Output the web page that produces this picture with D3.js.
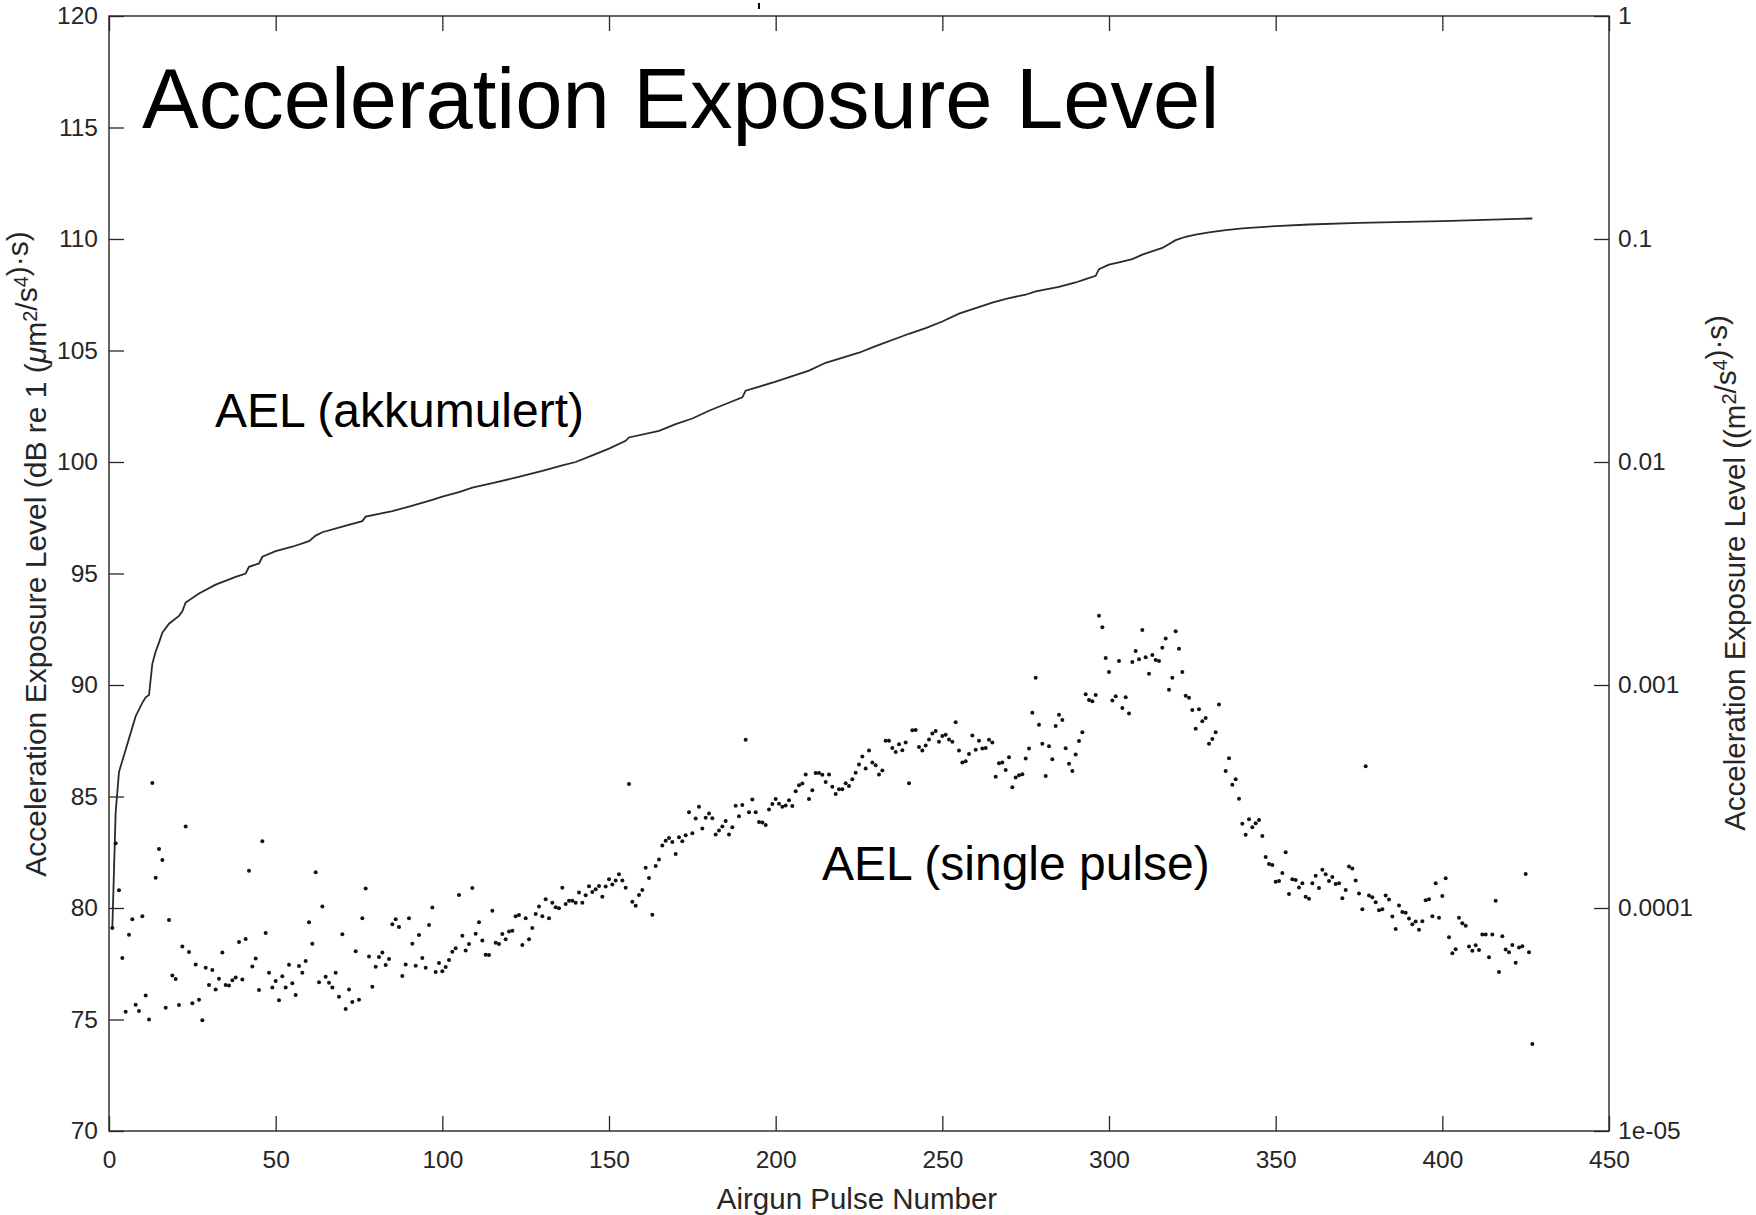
<!DOCTYPE html>
<html>
<head>
<meta charset="utf-8">
<script src="https://cdn.jsdelivr.net/npm/d3@7/dist/d3.min.js"></script>
<style>
    body { margin: 0; background: #fff; }
    svg { display: block; font-family: "Liberation Sans", Arial, sans-serif; }
</style>
</head>
<body>
<script>
// single pulse AEL, pulse 1..427 (dB re 1 (um^2/s^4)s), null = no dot seen
var singlePulse = [
    79.1, 82.9, 80.8, 77.76, 75.35, 78.8, 79.5, 75.66, 75.38, 79.63,
    76.08, 75.0, 85.6, 81.36, 82.65, 82.15, 75.53, 79.46, 76.97, 76.82,
    75.65, 78.27, 83.66, 78.03, 75.73, 77.47, 75.89, 74.97, 77.32, 76.55,
    77.22, 76.35, 76.83, 78.01, 76.55, 76.53, 76.76, 76.88, 78.48, 76.79,
    78.61, 81.67, 77.38, 77.73, 76.32, 82.99, 78.88, 77.1, 76.43, 76.73,
    75.86, 76.94, 76.43, 77.46, 76.62, 76.1, 77.4, 77.1, 77.62, 79.36,
    78.4, 81.6, 76.67, 80.07, 76.92, 76.65, 76.43, 77.1, 76.02, 78.82,
    75.47, 76.34, 75.78, 78.06, 75.89, 79.54, 80.88, 77.83, 76.47, 77.37,
    77.8, 78.0, 77.44, 77.71, 79.27, 79.49, 79.15, 76.95, 77.47, 79.54,
    78.4, 77.41, 78.79, 77.76, 77.32, 79.24, 80.02, 77.13, 77.53, 77.16,
    77.35, 77.67, 78.04, 78.19, 80.58, 78.76, 78.09, 78.39, 80.9, 78.85,
    79.36, 78.54, 77.9, 77.89, 79.88, 78.44, 78.39, 78.83, 78.6, 78.95,
    78.98, 79.63, 79.69, 78.34, 79.54, 78.6, 79.1, 79.73, 80.07, 79.63,
    80.39, 79.54, 80.24, 80.03, 79.99, 80.91, 80.18, 80.33, 80.33, 80.24,
    80.7, 80.24, 80.57, 80.97, 80.72, 80.84, 80.99, 80.51, 80.96, 81.29,
    81.05, 81.23, 81.51, 81.23, 80.91, 85.56, 80.28, 80.1, 80.58, 80.81,
    81.8, 81.35, 79.7, 81.88, 82.17, 82.8, 83.02, 83.14, 82.96, 82.42,
    83.17, 82.99, 83.26, 84.29, 83.35, 84.01, 84.54, 83.56, 84.05, 84.24,
    84.03, 83.3, 83.47, 83.65, 83.9, 83.3, 83.62, 84.59, 84.11, 84.62,
    87.55, 84.29, 84.86, 84.29, 83.86, 83.83, 83.72, 84.42, 84.66, 84.89,
    84.68, 84.54, 84.6, 84.83, 84.57, 85.23, 85.5, 85.58, 85.99, 84.89,
    85.28, 86.05, 86.05, 85.98, 85.65, 85.99, 85.44, 85.11, 85.32, 85.33,
    85.59, 85.47, 85.77, 86.07, 86.43, 86.79, 86.26, 87.06, 86.53, 86.4,
    85.99, 86.17, 87.5, 87.5, 87.17, 87.0, 87.34, 87.07, 87.42, 85.59,
    87.97, 87.98, 87.22, 87.06, 87.29, 87.56, 87.82, 87.94, 87.46, 87.71,
    87.77, 87.56, 87.46, 88.33, 87.06, 86.52, 86.58, 86.91, 87.74, 87.1,
    87.5, 87.15, 87.18, 87.55, 87.42, 85.89, 86.49, 86.52, 86.19, 86.76,
    85.41, 85.85, 85.95, 86.0, 86.7, 87.15, 88.76, 90.33, 88.22, 87.36,
    85.92, 87.25, 86.67, 88.16, 88.67, 88.43, 87.16, 86.47, 86.14, 86.88,
    87.49, 87.88, 89.58, 89.33, 89.27, 89.55, 93.11, 92.59, 91.21, 90.58,
    89.31, 89.49, 91.08, 88.97, 89.45, 88.72, 91.03, 91.53, 91.15, 92.47,
    91.24, 90.51, 91.35, 91.12, 91.08, 91.67, 92.08, 89.79, 90.33, 92.41,
    91.62, 90.58, 89.52, 89.43, 88.88, 88.04, 88.91, 88.37, 88.52, 87.36,
    87.58, 87.88, 89.13, null, 86.14, 86.71, 85.53, 85.77, 84.9, 83.78,
    83.29, 83.98, 83.62, 83.8, 83.95, 83.23, 82.29, 81.97, 81.93, 81.18,
    81.21, 81.57, 82.5, 80.63, 81.29, 81.26, 80.92, 81.11, 80.51, 80.41,
    81.11, 81.45, 80.9, 81.71, 81.51, 81.21, 81.39, 81.08, 81.11, 80.44,
    80.81, 81.86, 81.77, 81.23, 80.65, 79.94, 86.36, 80.56, 80.48, 80.26,
    79.9, 79.94, 80.56, 80.38, 79.62, 79.06, 80.11, 79.82, 79.79, 79.53,
    79.27, 79.39, 79.03, 79.41, 80.35, 80.39, 79.63, 81.11, 79.56, 80.54,
    81.33, 78.69, 77.97, 78.15, 79.56, 79.32, 79.2, 78.27, 78.08, 78.33,
    78.12, 78.81, 78.81, 77.79, 78.81, 80.32, 77.13, 78.73, 78.14, 78.02,
    78.34, 77.55, 78.23, 78.28, 81.53, 78.02, 73.9
]

// accumulated AEL
var accumPulse = [
    1, 2, 3, 4, 5, 7, 8, 10, 11, 12,
    13, 14, 15, 16, 18, 21, 22, 23, 27, 32,
    38, 41, 42, 45, 46, 50, 55, 60, 62, 64,
    70, 76, 77, 85, 90, 97, 100, 105, 109, 115,
    122, 130, 136, 140, 145, 150, 155, 156, 165, 170,
    175, 180, 185, 190, 191, 200, 210, 215, 225, 230,
    240, 245, 250, 255, 260, 265, 270, 275, 278, 285,
    290, 293, 296, 297, 300, 303, 307, 310, 316, 320,
    323, 326, 330, 335, 340, 350, 360, 375, 400, 427
]
var accumLevel = [
    79.1, 84.3, 86.1, 86.6, 87.1, 88.1, 88.6, 89.2, 89.45, 89.55,
    90.95, 91.5, 91.9, 92.35, 92.75, 93.1, 93.3, 93.7, 94.1, 94.5,
    94.85, 95.0, 95.3, 95.45, 95.75, 96.0, 96.2, 96.45, 96.7, 96.85,
    97.1, 97.35, 97.55, 97.8, 98.0, 98.3, 98.45, 98.65, 98.85, 99.05,
    99.3, 99.6, 99.85, 100.0, 100.3, 100.6, 100.95, 101.1, 101.4, 101.7,
    101.95, 102.3, 102.6, 102.9, 103.2, 103.6, 104.1, 104.45, 104.9, 105.2,
    105.75, 106.0, 106.3, 106.65, 106.9, 107.15, 107.35, 107.5, 107.65, 107.85,
    108.05, 108.2, 108.35, 108.65, 108.85, 108.95, 109.1, 109.3, 109.6, 109.95,
    110.1, 110.2, 110.3, 110.4, 110.48, 110.58, 110.65, 110.72, 110.8, 110.92
]

var xTicks = [0, 50, 100, 150, 200, 250, 300, 350, 400, 450]
var leftTicks = [70, 75, 80, 85, 90, 95, 100, 105, 110, 115, 120]
var rightTicks = [1e-5, 1e-4, 1e-3, 1e-2, 1e-1, 1]
var rightTickLabels = ['1e-05', '0.0001', '0.001', '0.01', '0.1', '1']

var W = 1756, H = 1215
var box = { left: 109, right: 1609, top: 16, bottom: 1131 }
var ink = '#262626'

var svg = d3.select('body').append('svg')
    .attr('width', W)
    .attr('height', H)

var x = d3.scaleLinear().domain([0, 450]).range([box.left, box.right])
var yL = d3.scaleLinear().domain([70, 120]).range([box.bottom, box.top])
var yR = d3.scaleLog().domain([1e-5, 1]).range([box.bottom, box.top])

var styleAxis = function (g) {
    g.select('.domain').remove()
    g.selectAll('.tick line').attr('stroke', ink).attr('stroke-width', 1.3)
    g.selectAll('.tick text')
        .attr('fill', ink)
        .attr('font-size', 24.5)
        .attr('font-family', '"Liberation Sans", Arial, sans-serif')
}

svg.append('g')
    .attr('transform', 'translate(0,' + box.bottom + ')')
    .call(d3.axisBottom(x).tickValues(xTicks).tickSizeInner(-15).tickSizeOuter(0).tickPadding(20))
    .call(styleAxis)

svg.append('g')
    .attr('transform', 'translate(0,' + box.top + ')')
    .call(d3.axisTop(x).tickValues(xTicks).tickSizeInner(-15).tickSizeOuter(0).tickFormat(''))
    .call(styleAxis)

svg.append('g')
    .attr('transform', 'translate(' + box.left + ',0)')
    .call(d3.axisLeft(yL).tickValues(leftTicks).tickSizeInner(-15).tickSizeOuter(0).tickPadding(11))
    .call(styleAxis)

svg.append('g')
    .attr('transform', 'translate(' + box.right + ',0)')
    .call(d3.axisRight(yR).tickValues(rightTicks).tickSizeInner(-15).tickSizeOuter(0).tickPadding(9)
        .tickFormat(function (d, i) { return rightTickLabels[i] }))
    .call(styleAxis)

// frame
svg.append('rect')
    .attr('x', box.left)
    .attr('y', box.top)
    .attr('width', box.right - box.left)
    .attr('height', box.bottom - box.top)
    .attr('fill', 'none')
    .attr('stroke', ink)
    .attr('stroke-width', 1.4)

// accumulated curve
var line = d3.line()
    .x(function (d) { return x(d[0]) })
    .y(function (d) { return yL(d[1]) })

svg.append('path')
    .datum(d3.zip(accumPulse, accumLevel))
    .attr('d', line)
    .attr('fill', 'none')
    .attr('stroke', '#2a2a2a')
    .attr('stroke-width', 1.8)

// single pulse dots
var dots = singlePulse
    .map(function (v, i) { return [i + 1, v] })
    .filter(function (d) { return d[1] != null })

svg.append('g').selectAll('circle')
    .data(dots)
    .enter().append('circle')
    .attr('cx', function (d) { return x(d[0]) })
    .attr('cy', function (d) { return yL(d[1]) })
    .attr('r', 2)
    .attr('fill', '#111')

// texts
var label = function (txt, px, py, size) {
    return svg.append('text')
        .text(txt)
        .attr('x', px)
        .attr('y', py)
        .attr('font-size', size)
        .attr('fill', '#000')
}

label('Acceleration Exposure Level', 142, 128, 85)
label('AEL (akkumulert)', 215, 427, 48)
label('AEL (single pulse)', 822, 880, 48)

svg.append('text')
    .text('Airgun Pulse Number')
    .attr('x', 857)
    .attr('y', 1209)
    .attr('text-anchor', 'middle')
    .attr('font-size', 29.5)
    .attr('fill', ink)

var sup = function (t, s) {
    t.append('tspan').attr('dy', -9).attr('font-size', 20).text(s)
    t.append('tspan').attr('dy', 9).text('')
}

var yTitleL = svg.append('text')
    .attr('transform', 'translate(46,554) rotate(-90)')
    .attr('text-anchor', 'middle')
    .attr('font-size', 30)
    .attr('fill', ink)
yTitleL.append('tspan').text('Acceleration Exposure Level (dB re 1 (')
yTitleL.append('tspan').attr('font-style', 'italic').text('\u03bc')
yTitleL.append('tspan').text('m')
sup(yTitleL, '2')
yTitleL.append('tspan').text('/s')
sup(yTitleL, '4')
yTitleL.append('tspan').text(')\u00b7s)')

var yTitleR = svg.append('text')
    .attr('transform', 'translate(1745,573) rotate(-90)')
    .attr('text-anchor', 'middle')
    .attr('font-size', 29.5)
    .attr('fill', ink)
yTitleR.append('tspan').text('Acceleration Exposure Level ((m')
sup(yTitleR, '2')
yTitleR.append('tspan').text('/s')
sup(yTitleR, '4')
yTitleR.append('tspan').text(')\u00b7s)')

// small stray mark above the frame
svg.append('line')
    .attr('x1', 759).attr('x2', 759)
    .attr('y1', 3).attr('y2', 9)
    .attr('stroke', '#000')
    .attr('stroke-width', 2)
</script>
</body>
</html>
